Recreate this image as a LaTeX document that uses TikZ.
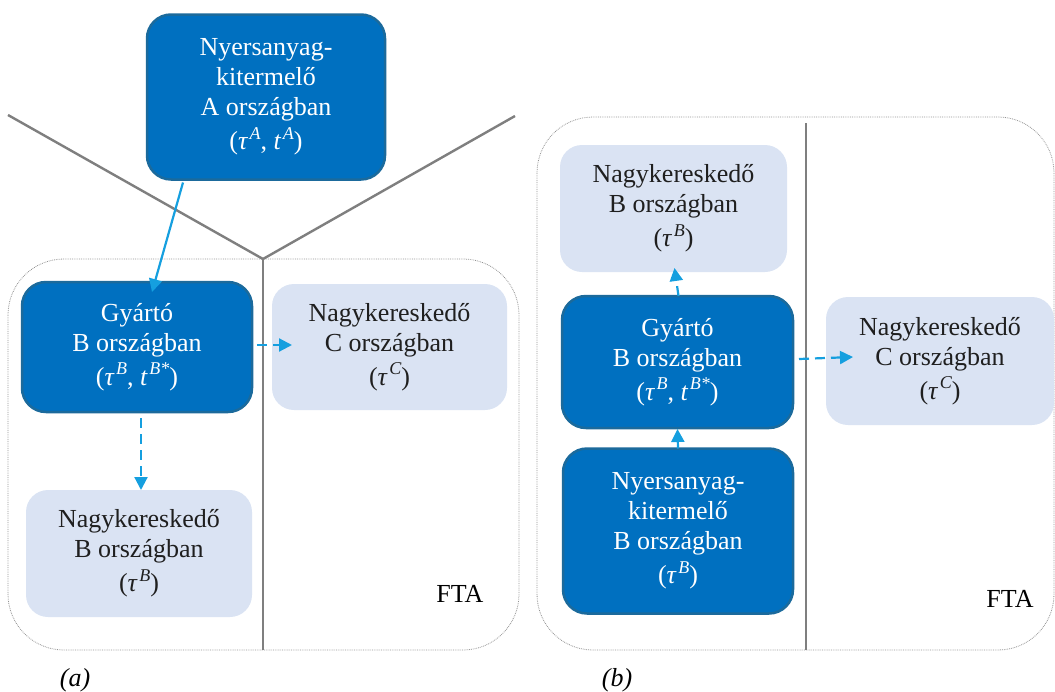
\documentclass[tikz,border=0pt]{standalone}
\usepackage{fontspec}
\setmainfont{Liberation Serif}
\usetikzlibrary{calc,arrows.meta}

\definecolor{boxdark}{HTML}{0070C0}
\definecolor{boxedge}{HTML}{1B6A9C}
\definecolor{boxlight}{HTML}{DAE3F3}
\definecolor{flowblue}{HTML}{159FDF}
\definecolor{bordergray}{HTML}{7F7F7F}

% superscript and tax symbols
\newcommand{\supx}[1]{\raisebox{0.4em}{\fontsize{18}{18}\selectfont\itshape #1}}
\newcommand{\taux}[1]{\textit{τ}\hspace{1.5pt}\supx{#1}}
\newcommand{\tarx}[1]{\textit{t}\hspace{1.5pt}\supx{#1}}

\tikzset{
  darkbox/.style={fill=boxdark, draw=boxedge, line width=2.5pt, rounded corners=24pt,
    text=white, align=center},
  lightbox/.style={fill=boxlight, rounded corners=22pt, text=black!88, align=center},
  flow/.style={flowblue, line width=2.2pt, -{Triangle[length=13pt,width=13pt]}},
  flowdash/.style={flow, dash pattern=on 10pt off 6pt},
  border/.style={bordergray, line width=2.4pt},
  region/.style={gray!85, line width=0.8pt, densely dotted, rounded corners=56pt}
}

\begin{document}
\begin{tikzpicture}[inner sep=0pt,outer sep=0pt,x=1pt,y=-1pt,
  every node/.style={font=\fontsize{26}{30}\selectfont}]
    \useasboundingbox (0,0) rectangle (1055,691);

    % (a) FTA region and borders
    \draw[region] (8,259) rectangle (519,650);
    \coordinate (fork) at (263,259);
    \draw[border] (8,115) -- (fork) -- (515,116);
    \draw[border] (fork) -- (263,650);

    % (a) boxes
    \node[darkbox, minimum width=238pt, minimum height=165pt] (nyersA) at (266,97)
    {Nyersanyag-\\kitermelő\\A országban\\[4pt](\taux{A}, \tarx{A})};

    \node[darkbox, minimum width=230pt, minimum height=130pt] (gyartoA) at (137,347)
    {Gyártó\\B országban\\[4pt](\taux{B}, \tarx{B*})};

    \node[lightbox, minimum width=235pt, minimum height=126pt] (nagyCa) at (389.5,347)
    {Nagykereskedő\\C országban\\[4pt](\taux{C})};

    \node[lightbox, minimum width=226pt, minimum height=127pt] (nagyBa) at (139,553.5)
    {Nagykereskedő\\B országban\\[4pt](\taux{B})};

    \node[anchor=base] (ftaA) at (460,602) {FTA};
    \node[anchor=base] (capA) at (75,686) {\itshape (a)};

    % (a) flows
    \draw[flow] ([xshift=-83pt,yshift=-3pt]nyersA.south) -- ([xshift=15pt,yshift=-10pt]gyartoA.north);
    \draw[flowdash] ([xshift=4pt,yshift=-6pt]gyartoA.south) -- ([xshift=2pt]nagyBa.north);
    \draw[flowdash] ([xshift=5pt,yshift=2pt]gyartoA.east) -- ([xshift=20pt,yshift=2pt]nagyCa.west);

    % (b) FTA region and border
    \draw[region] (537,117) rectangle (1054,650);
    \draw[border] (806,123) -- (806,650);

    % (b) boxes
    \node[lightbox, minimum width=227pt, minimum height=127pt] (nagyBb) at (673.5,208.5)
    {Nagykereskedő\\B országban\\[4pt](\taux{B})};

    \node[darkbox, minimum width=231pt, minimum height=132pt] (gyartoB) at (677.5,362)
    {Gyártó\\B országban\\[4pt](\taux{B}, \tarx{B*})};

    \node[darkbox, minimum width=230pt, minimum height=165pt] (nyersB) at (678,531)
    {Nyersanyag-\\kitermelő\\B országban\\[4pt](\taux{B})};

    \node[lightbox, minimum width=228pt, minimum height=128pt] (nagyCb) at (940,361)
    {Nagykereskedő\\C országban\\[4pt](\taux{C})};

    \node[anchor=base] (ftaB) at (1010,607) {FTA};
    \node[anchor=base] (capB) at (617,686) {\itshape (b)};

    % (b) flows
    \draw[flowdash] ([xshift=1pt]gyartoB.north) -- ([xshift=1pt,yshift=4pt]nagyBb.south);
    \draw[flowdash] (nyersB.north) -- ([yshift=-1pt]gyartoB.south);
    \draw[flowdash] ([xshift=6pt,yshift=3pt]gyartoB.east) -- ([xshift=27pt,yshift=4pt]nagyCb.west);

\end{tikzpicture}
\end{document}
